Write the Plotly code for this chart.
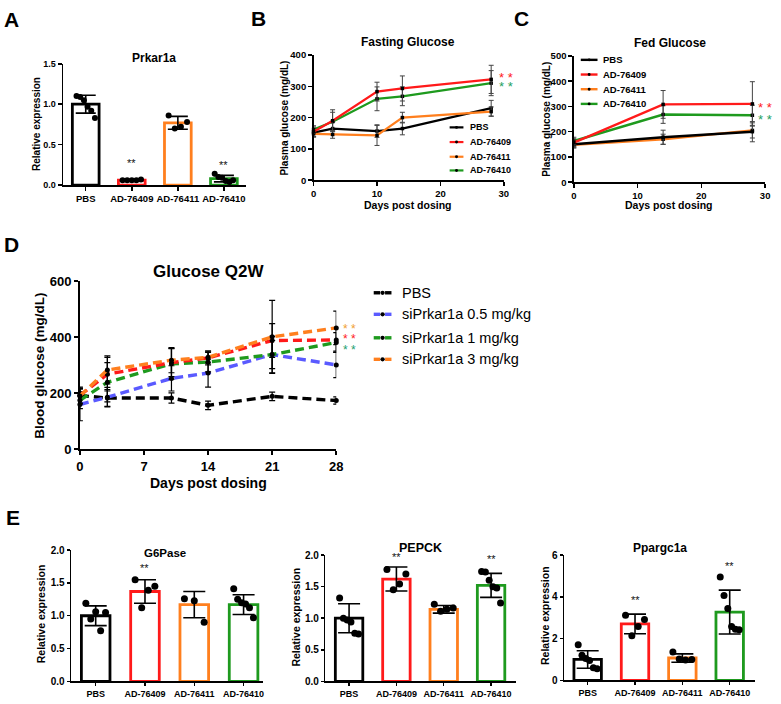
import numpy as np
import plotly.graph_objects as go

W, H = 781, 704
FF = "Liberation Sans"

# ---------------- DATA ----------------
groups = ["PBS", "AD-76409", "AD-76411", "AD-76410"]

# Panel A: Prkar1a relative expression
prkar_mean = [1.00, 0.06, 0.77, 0.08]
prkar_sd = [0.11, 0.01, 0.08, 0.04]
prkar_pts = [[1.10, 1.09, 1.05, 0.97, 0.92, 0.83],
             [0.06, 0.06, 0.07, 0.06, 0.06],
             [0.86, 0.78, 0.72, 0.70],
             [0.14, 0.10, 0.09, 0.05, 0.04, 0.06]]

# Panel B: Fasting glucose (mg/dL)
fast_days = [0, 3, 10, 14, 28]
fast_pbs = [152, 165, 157, 165, 230]
fast_76409 = [155, 190, 283, 293, 322]
fast_76411 = [148, 146, 143, 200, 219]
fast_76410 = [162, 187, 260, 268, 310]
fast_pbs_sd = [14, 20, 20, 20, 25]
fast_76409_sd = [15, 35, 30, 40, 45]
fast_76411_sd = [10, 12, 32, 17, 15]
fast_76410_sd = [12, 30, 38, 30, 40]

# Panel C: Fed glucose (mg/dL)
fed_days = [0, 14, 28]
fed_pbs = [150, 178, 200]
fed_76409 = [157, 308, 310]
fed_76411 = [148, 170, 205]
fed_76410 = [163, 268, 265]
fed_pbs_sd = [15, 28, 40]
fed_76409_sd = [15, 55, 88]
fed_76411_sd = [10, 20, 30]
fed_76410_sd = [15, 35, 40]

# Panel D: Glucose Q2W (mg/dL)
q2w_days = [0, 3, 10, 14, 21, 28]
q2w_pbs = [192, 183, 183, 157, 189, 174]
q2w_05 = [160, 186, 253, 272, 338, 301]
q2w_1 = [175, 239, 305, 311, 338, 381]
q2w_red = [192, 268, 309, 326, 388, 390]
q2w_3 = [190, 283, 318, 328, 401, 433]
q2w_pbs_sd = [25, 30, 18, 15, 15, 13]
q2w_05_sd = [58, 35, 45, 50, 65, 45]
q2w_1_sd = [30, 70, 55, 35, 50, 35]
q2w_red_sd = [30, 60, 50, 25, 60, 40]
q2w_3_sd = [25, 50, 45, 20, 130, 60]
q2w_labels = ["PBS", "siPrkar1a 0.5 mg/kg", "siPrkar1a 1 mg/kg", "siPrkar1a 3 mg/kg"]

# Panel E
g6_mean = [1.00, 1.37, 1.17, 1.17]
g6_sd = [0.15, 0.18, 0.20, 0.15]
g6_pts = [[1.19, 1.06, 1.05, 0.95, 0.77],
          [1.55, 1.45, 1.39, 1.12],
          [1.26, 1.23, 0.90],
          [1.41, 1.25, 1.20, 1.18, 1.12, 0.97]]
pe_mean = [1.00, 1.62, 1.14, 1.52]
pe_sd = [0.23, 0.19, 0.06, 0.19]
pe_pts = [[1.32, 1.00, 0.97, 0.94, 0.76, 0.75],
          [1.77, 1.70, 1.54, 1.45],
          [1.22, 1.16, 1.14, 1.11],
          [1.74, 1.73, 1.60, 1.50, 1.48, 1.24]]
pp_mean = [1.00, 2.70, 1.07, 3.27]
pp_sd = [0.42, 0.47, 0.20, 1.05]
pp_pts = [[1.70, 1.20, 1.05, 0.95, 0.60, 0.55],
          [3.12, 2.92, 2.58, 2.14],
          [1.36, 1.00, 0.97, 1.02],
          [4.95, 4.06, 3.44, 2.58, 2.45, 2.42]]

# ---------------- STYLE ----------------
BLACK = "#000000"
RED = "#ff1a1a"
ORANGE = "#ff7f1e"
GREEN = "#1e9a1e"
BLUE = "#5a5aff"
bar_colors = [BLACK, RED, ORANGE, GREEN]

fig = go.Figure()
axes = {}


def names(n):
    if n == 1:
        return "xaxis", "yaxis", "x", "y"
    return f"xaxis{n}", f"yaxis{n}", f"x{n}", f"y{n}"


def add_axes(n, xpx, ypx, xrange, yrange, xtv, xtt, ytv, ytt, tfs, xtfs=None, lw=1.5, tl=4):
    xn, yn, xa, ya = names(n)
    xtfs = xtfs or tfs
    common = dict(showline=True, linecolor="black", linewidth=lw, ticks="outside",
                  ticklen=tl, tickwidth=lw, tickcolor="black", showgrid=False,
                  zeroline=False, fixedrange=True)
    axes[xn] = dict(domain=[xpx[0] / W, xpx[1] / W], range=xrange, anchor=ya,
                    tickmode="array", tickvals=xtv, ticktext=xtt,
                    tickfont=dict(family=FF, size=xtfs, color="black", weight="bold"), **common)
    axes[yn] = dict(domain=[1 - ypx[1] / H, 1 - ypx[0] / H], range=yrange, anchor=xa,
                    tickmode="array", tickvals=ytv, ticktext=ytt,
                    tickfont=dict(family=FF, size=tfs, color="black", weight="bold"), **common)
    return xa, ya


def jitter(n, s):
    if n == 1:
        return [0.0]
    return [-s + 2 * s * ((i * 7) % n) / (n - 1) for i in range(n)]


def bar_panel(xa, ya, means, sds, pts, cap, dot=6):
    xs = list(range(len(means)))
    fig.add_trace(go.Bar(x=xs, y=means, width=0.58, xaxis=xa, yaxis=ya,
                         marker=dict(color="white", line=dict(color=bar_colors, width=2.8)),
                         error_y=dict(type="data", array=sds, visible=True, color="black",
                                      thickness=1.6, width=cap)))
    dx, dy = [], []
    for i, p in enumerate(pts):
        for o, v in zip(jitter(len(p), 0.2), p):
            dx.append(i + o)
            dy.append(v)
    fig.add_trace(go.Scatter(x=dx, y=dy, mode="markers", xaxis=xa, yaxis=ya, cliponaxis=False,
                             marker=dict(color="black", size=dot)))


def ann(text, x, y, size, color="black", bold=True, angle=0, xanchor="center"):
    fig.add_annotation(text=text, x=x / W, y=1 - y / H, xref="paper", yref="paper",
                       showarrow=False, textangle=angle, xanchor=xanchor, yanchor="middle",
                       font=dict(family=FF, size=size, color=color,
                                 weight="bold" if bold else "normal"))


def star(x, y, size, color="black", xanchor="center"):
    # y is the visual centre of the asterisk glyphs
    ann("* *", x, y + 0.27 * size, size, color=color, bold=False, xanchor=xanchor)


def dstar(xa, ya, x, y, size):
    fig.add_annotation(text="**", x=x, y=y, xref=xa, yref=ya, showarrow=False,
                       yanchor="bottom", font=dict(family=FF, size=size, color="#111111"))


# ---------------- PANEL A ----------------
xa, ya = add_axes(1, (60, 245), (58, 182), [-0.49, 3.47], [0, 1.5],
                  [0, 1, 2, 3], groups, [0, 0.5, 1.0, 1.5], ["0.0", "0.5", "1.0", "1.5"], 9, 9.5)
bar_panel(xa, ya, prkar_mean, prkar_sd, prkar_pts, 10)
dstar(xa, ya, 1, 0.18, 11)
dstar(xa, ya, 3, 0.15, 11)

# ---------------- PANEL B ----------------
xb, yb = add_axes(2, (314, 507), (49, 177), [0, 30], [0, 400],
                  [0, 10, 20, 30], ["0", "10", "20", "30"],
                  [0, 100, 200, 300, 400], ["0", "100", "200", "300", "400"], 9.5)
for vals, sd, c in [(fast_pbs, fast_pbs_sd, BLACK), (fast_76411, fast_76411_sd, ORANGE),
                    (fast_76410, fast_76410_sd, GREEN), (fast_76409, fast_76409_sd, RED)]:
    fig.add_trace(go.Scatter(x=fast_days, y=vals, mode="lines+markers", xaxis=xb, yaxis=yb,
                             cliponaxis=False, line=dict(color=c, width=2.2),
                             marker=dict(color="black", size=3.5, symbol="square"),
                             error_y=dict(type="data", array=sd, color="#444444",
                                          thickness=1, width=2.5)))

# ---------------- PANEL C ----------------
xc, yc = add_axes(3, (578, 772), (50, 179), [0, 30], [0, 500],
                  [0, 10, 20, 30], ["0", "10", "20", "30"],
                  [0, 100, 200, 300, 400, 500], ["0", "100", "200", "300", "400", "500"], 9.5)
for vals, sd, c in [(fed_76411, fed_76411_sd, ORANGE), (fed_pbs, fed_pbs_sd, BLACK),
                    (fed_76410, fed_76410_sd, GREEN), (fed_76409, fed_76409_sd, RED)]:
    fig.add_trace(go.Scatter(x=fed_days, y=vals, mode="lines+markers", xaxis=xc, yaxis=yc,
                             cliponaxis=False, line=dict(color=c, width=2.4),
                             marker=dict(color="black", size=3.5, symbol="square"),
                             error_y=dict(type="data", array=sd, color="#444444",
                                          thickness=1, width=2.5)))

# ---------------- PANEL D ----------------
xd, yd = add_axes(4, (77, 337), (280, 452), [0, 28], [0, 600],
                  [0, 7, 14, 21, 28], ["0", "7", "14", "21", "28"],
                  [0, 200, 400, 600], ["0", "200", "400", "600"], 13, 13, lw=1.8)
for vals, sd, c in [(q2w_pbs, q2w_pbs_sd, BLACK), (q2w_05, q2w_05_sd, BLUE),
                    (q2w_1, q2w_1_sd, GREEN), (q2w_red, q2w_red_sd, RED),
                    (q2w_3, q2w_3_sd, ORANGE)]:
    fig.add_trace(go.Scatter(x=q2w_days, y=vals, mode="lines+markers", xaxis=xd, yaxis=yd,
                             cliponaxis=False, line=dict(color=c, width=3.4, dash="9px,5px"),
                             marker=dict(color="black", size=5),
                             error_y=dict(type="data", array=sd, color="black",
                                          thickness=1.2, width=3)))

# ---------------- PANEL E ----------------
e_ticks2 = [0, 0.5, 1.0, 1.5, 2.0]
e_ticks2t = ["0.0", "0.5", "1.0", "1.5", "2.0"]
xe1, ye1 = add_axes(5, (68, 263), (555, 689), [-0.5, 3.4], [0, 2],
                    [0, 1, 2, 3], groups, e_ticks2, e_ticks2t, 10, 9, tl=3)
bar_panel(xe1, ye1, g6_mean, g6_sd, g6_pts, 11, 7)
dstar(xe1, ye1, 1, 1.60, 11)

xe2, ye2 = add_axes(6, (326, 519), (560, 689), [-0.5, 3.52], [0, 2],
                    [0, 1, 2, 3], groups, e_ticks2, e_ticks2t, 10, 9, tl=3)
bar_panel(xe2, ye2, pe_mean, pe_sd, pe_pts, 11, 7)
dstar(xe2, ye2, 1, 1.85, 11)
dstar(xe2, ye2, 3, 1.81, 11)

xe3, ye3 = add_axes(7, (568, 762), (560, 688), [-0.5, 3.54], [0, 6],
                    [0, 1, 2, 3], groups, [0, 2, 4, 6], ["0", "2", "4", "6"], 10, 9, tl=3)
bar_panel(xe3, ye3, pp_mean, pp_sd, pp_pts, 11, 7)
dstar(xe3, ye3, 1, 3.45, 11)
dstar(xe3, ye3, 3, 5.1, 11)

# ---------------- TEXT ----------------
for t, x, y in [("A", 8, 13), ("B", 258, 12), ("C", 525, 12), ("D", 8, 243), ("E", 9, 522)]:
    ann(t, x, y, 21)

ann("Prkar1a", 152, 52, 12)
ann("Fasting Glucose", 410, 36, 12)
ann("Fed Glucose", 676, 37, 12)
ann("Glucose Q2W", 207, 270, 17)
ann("G6Pase", 163, 558, 11.5)
ann("PEPCK", 422, 553, 12.5)
ann("Ppargc1a", 665, 553, 12)

ann("Relative expression", 33, 120, 10, angle=-90)
ann("Plasma glucose (mg/dL)", 285, 113, 10, angle=-90)
ann("Plasma glucose (mg/dL)", 550, 115, 10, angle=-90)
ann("Blood glucose (mg/dL)", 36, 366, 13.5, angle=-90)
ann("Relative expression", 37, 620, 10.5, angle=-90)
ann("Relative expression", 296, 623, 10.5, angle=-90)
ann("Relative expression", 548, 622, 10.5, angle=-90)

ann("Days post dosing", 410, 202, 10.5)
ann("Days post dosing", 675, 202, 10.5)
ann("Days post dosing", 207, 486, 14)

# significance stars next to line ends
star(500, 69, 13, RED, xanchor="left")
star(500, 78, 13, "#22a060", xanchor="left")
star(781, 99, 13, RED, xanchor="right")
star(781, 111, 13, "#22a060", xanchor="right")
star(342, 326, 12, "#f0a030", xanchor="left")
star(342, 336, 12, RED, xanchor="left")
star(342, 347, 12, "#22a070", xanchor="left")

# ---------------- LEGENDS (drawn) ----------------
shapes = []


def leg_row(x0, x1, y, color, width, label, tx, size, bold, split=False, dot=2.0):
    yy = 1 - y / H
    xm = (x0 + x1) / 2
    segs = [(x0, xm - 2.5), (xm + 2.5, x1)] if split else [(x0, x1)]
    for a, b in segs:
        shapes.append(dict(type="line", xref="paper", yref="paper", x0=a / W, x1=b / W,
                           y0=yy, y1=yy, line=dict(color=color, width=width)))
    shapes.append(dict(type="circle", xref="paper", yref="paper",
                       x0=(xm - dot) / W, x1=(xm + dot) / W, y0=yy - dot / H, y1=yy + dot / H,
                       fillcolor="black", line=dict(color="black", width=0)))
    ann(label, tx, y, size, bold=bold, xanchor="left")


for i, (lab, c) in enumerate(zip(groups, [BLACK, RED, ORANGE, GREEN])):
    leg_row(452, 466, [123, 138, 153, 167][i], c, 2.2, lab, 471, 9, True, dot=1.5)
    leg_row(585, 602, [54, 69, 84, 99][i], c, 2.4, lab, 606, 9.5, True, dot=1.5)
for i, (lab, c) in enumerate(zip(q2w_labels, [BLACK, BLUE, GREEN, ORANGE])):
    leg_row(375, 393, [292, 314, 338, 360][i], c, 3.4, lab, 402, 14.5, False, split=True, dot=2.2)

fig.update_layout(width=W, height=H, margin=dict(l=0, r=0, t=0, b=0),
                  paper_bgcolor="white", plot_bgcolor="white", showlegend=False,
                  shapes=shapes, **axes)
fig.write_html("out.html", config={"displayModeBar": False, "staticPlot": True},
               post_script="document.body.style.margin='0px';document.body.style.overflow='hidden';")
